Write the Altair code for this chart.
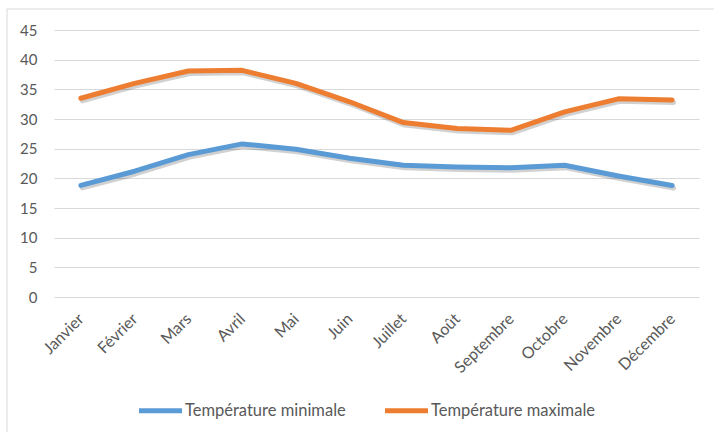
import altair as alt
import pandas as pd

months = ["Janvier", "Février", "Mars", "Avril", "Mai", "Juin", "Juillet",
          "Août", "Septembre", "Octobre", "Novembre", "Décembre"]
t_min = [18.8, 21.2, 24.0, 25.8, 24.9, 23.4, 22.2, 21.9, 21.8, 22.2, 20.4, 18.8]
t_max = [33.5, 36.0, 38.1, 38.2, 36.0, 32.9, 29.4, 28.4, 28.1, 31.2, 33.4, 33.2]
series = ["Température minimale", "Température maximale"]
colors = ["#5B9BD5", "#ED7D31"]
y_ticks = list(range(0, 50, 5))

rows = []
for s, vals in zip(series, [t_min, t_max]):
    for m, v in zip(months, vals):
        rows.append({"Mois": m, "Série": s, "Valeur": v})
df = pd.DataFrame(rows)

FONT = "Lato"
TXT = "#595959"

x = alt.X("Mois:N", sort=months,
          scale=alt.Scale(type="point", padding=0.5),
          axis=alt.Axis(title=None, labelAngle=-45, labelAlign="right",
                        labelBaseline="middle", labelPadding=19, ticks=False,
                        domain=False, grid=False, labelFontSize=16,
                        labelColor=TXT, labelFont=FONT))
y = alt.Y("Valeur:Q", scale=alt.Scale(domain=[0, 45], nice=False, zero=True),
          axis=alt.Axis(title=None, values=y_ticks, ticks=False, domain=False,
                        gridColor="#D9D9D9", gridWidth=1, labelPadding=17,
                        labelFontSize=15, labelColor=TXT, labelFont=FONT))

border = alt.Chart(pd.DataFrame({"a": [0]})).mark_rect(
    fill="transparent", stroke="#D9D9D9", strokeWidth=1
).encode(x=alt.value(-47), x2=alt.value(720), y=alt.value(-21), y2=alt.value(440))

shadow = alt.Chart(df).mark_line(
    color="#000000", opacity=0.18, strokeWidth=5, xOffset=1.5, yOffset=2.5,
    strokeCap="round", strokeJoin="round"
).encode(x=x, y=y, detail="Série:N")

lines = alt.Chart(df).mark_line(
    strokeWidth=5, strokeCap="round", strokeJoin="round"
).encode(
    x=x, y=y,
    color=alt.Color("Série:N", scale=alt.Scale(domain=series, range=colors),
                    sort=series,
                    legend=alt.Legend(orient="none", legendX=82, legendY=356,
                                      direction="horizontal", title=None,
                                      symbolType="stroke", symbolSize=1850,
                                      symbolStrokeWidth=5, labelFontSize=16.5,
                                      labelColor=TXT, labelFont=FONT,
                                      labelLimit=400,
                                      labelOffset=0, columnPadding=28))
)

chart = alt.layer(border, shadow, lines).properties(
    width=645, height=267,
    autosize=alt.AutoSizeParams(type="none"),
    padding={"left": 54, "top": 30, "right": 15, "bottom": 135},
    background="white"
).configure_view(strokeWidth=0)

chart.save("out.html", embed_options={"renderer": "svg", "actions": False})
